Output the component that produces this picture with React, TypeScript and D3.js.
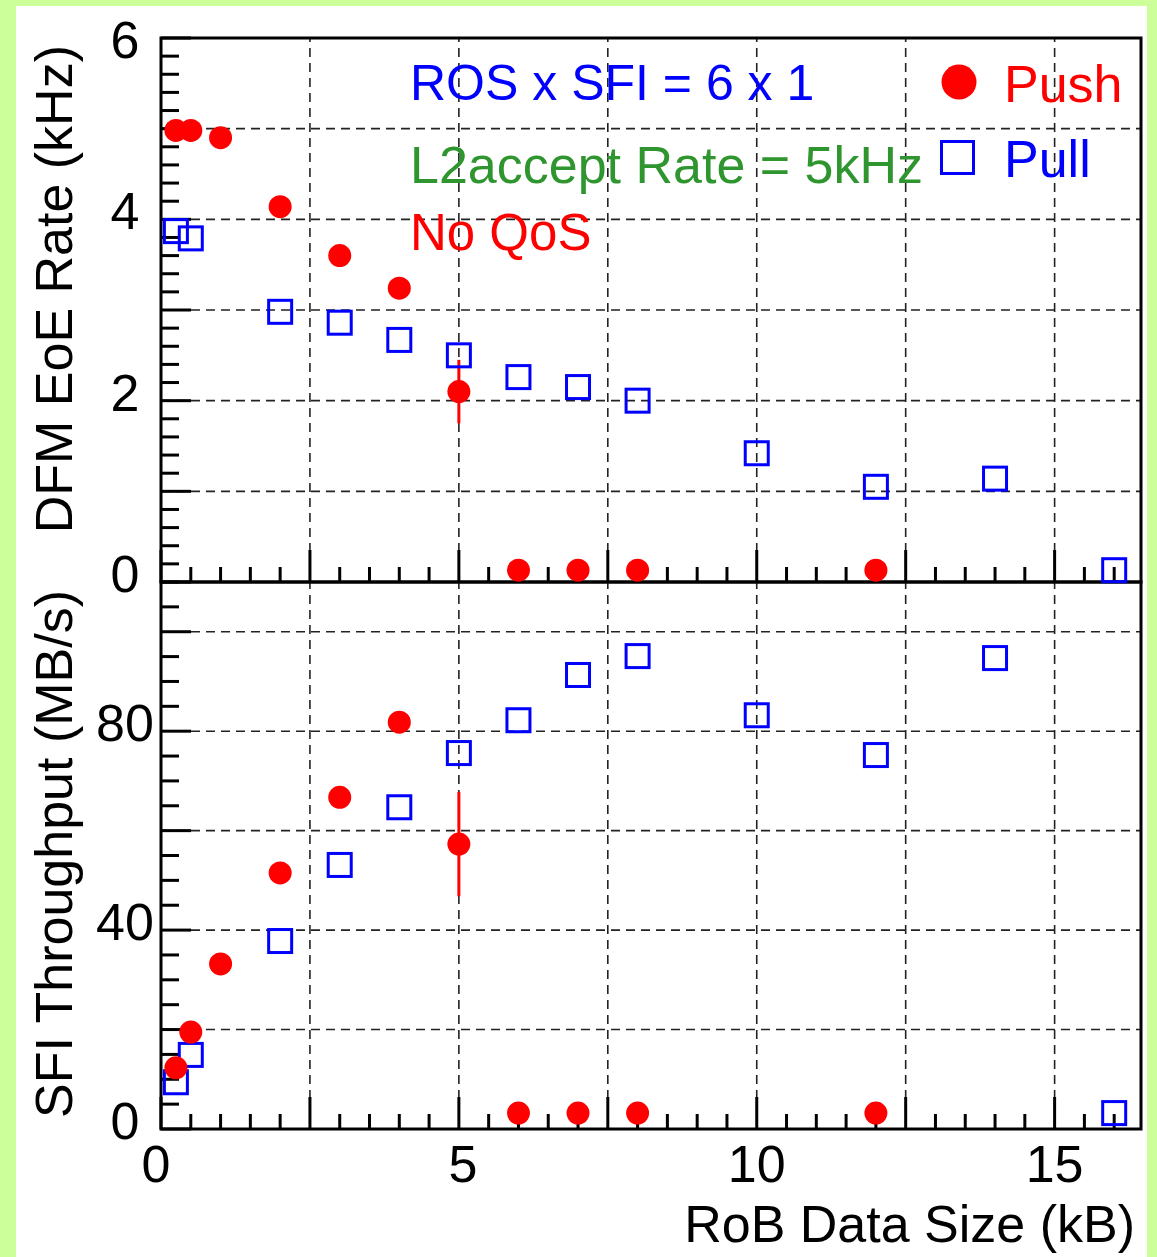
import React, { useEffect } from "react";
import * as d3 from "d3";

// RoB data size (kB) for each run
const pushSizes = [0.25, 0.5, 1, 2, 3, 4, 5, 6, 7, 8, 12];
const pullSizes = [0.25, 0.5, 2, 3, 4, 5, 6, 7, 8, 10, 12, 14, 16];

// DFM EoE rate (kHz)
const pushRate = [4.98, 4.98, 4.9, 4.14, 3.6, 3.24, 2.1, 0.13, 0.13, 0.13, 0.13];
const pushRateErr = [0, 0, 0, 0, 0, 0, 0.35, 0, 0, 0, 0];
const pullRate = [3.87, 3.79, 2.98, 2.86, 2.67, 2.5, 2.26, 2.15, 2.0, 1.42, 1.05, 1.14, 0.13];

// SFI throughput (MB/s)
const pushThroughput = [12.3, 19.5, 33.2, 51.5, 66.7, 81.8, 57.3, 3.2, 3.2, 3.2, 3.2];
const pushThroughputErr = [0, 0, 0, 0, 0, 0, 10.5, 0, 0, 0, 0];
const pullThroughput = [9.4, 14.9, 37.8, 53.1, 64.7, 75.6, 82.2, 91.3, 95.1, 83.2, 75.2, 94.7, 3.2];

// tick labels
const xLabels = [0, 5, 10, 15];
const rateLabels = [0, 2, 4, 6];
const throughputLabels = [0, 40, 80];

const W = 1157, H = 1257;
const FONT = "'Liberation Sans', Arial, Helvetica, sans-serif";
const FS = 52;
const RED = "#ff0000", BLUE = "#0000ff", GREEN = "#2f962f";

const x = d3.scaleLinear().domain([0, 16.45]).range([161, 1141]);
const yTop = d3.scaleLinear().domain([0, 6]).range([582, 38]);
const yBot = d3.scaleLinear().domain([0, 110]).range([1129, 582]);

const step = (a: number, b: number, s: number) => d3.range(a, b + 1e-9, s);

function Panel({ y, yMajor, yMinor, gridY }: { y: d3.ScaleLinear<number, number>; yMajor: number; yMinor: number; gridY: number[] }) {
  const [y0, y1] = y.range();
  const [x0, x1] = x.range();
  const xd = x.domain()[1];
  const yd = y.domain()[1];
  return (
    <g>
      {/* grid */}
      {step(2.5, 15, 2.5).map((v) => (
        <line key={"gx" + v} x1={x(v)} x2={x(v)} y1={y0} y2={y1} stroke="#222" strokeWidth={1.6} strokeDasharray="9,6" />
      ))}
      {gridY.map((v) => (
        <line key={"gy" + v} x1={x0} x2={x1} y1={y(v)} y2={y(v)} stroke="#222" strokeWidth={1.6} strokeDasharray="9,6" />
      ))}
      {/* x ticks */}
      {step(0, xd, 0.5).map((v) => {
        const major = Math.abs(v / 2.5 - Math.round(v / 2.5)) < 1e-6;
        return <line key={"tx" + v} x1={x(v)} x2={x(v)} y1={y0} y2={y0 - (major ? 32 : 15)} stroke="#000" strokeWidth={3} />;
      })}
      {/* y ticks */}
      {step(0, yd, yMinor).map((v) => {
        const major = Math.abs(v / yMajor - Math.round(v / yMajor)) < 1e-6;
        return <line key={"ty" + v} x1={x0} x2={x0 + (major ? 30 : 18)} y1={y(v)} y2={y(v)} stroke="#000" strokeWidth={3} />;
      })}
      <rect x={x0} y={y1} width={x1 - x0} height={y0 - y1} fill="none" stroke="#000" strokeWidth={3} />
    </g>
  );
}

function Markers({ y, push, pushErr, pull }: { y: d3.ScaleLinear<number, number>; push: number[]; pushErr: number[]; pull: number[] }) {
  return (
    <g>
      {pushSizes.map((s, i) =>
        pushErr[i] > 0 ? (
          <line key={"e" + i} x1={x(s)} x2={x(s)} y1={y(push[i] - pushErr[i])} y2={y(push[i] + pushErr[i])} stroke={RED} strokeWidth={3} />
        ) : null
      )}
      {pullSizes.map((s, i) => (
        <rect key={"q" + i} x={x(s) - 11.5} y={y(pull[i]) - 11.5} width={23} height={23} fill="none" stroke={BLUE} strokeWidth={3} />
      ))}
      {pushSizes.map((s, i) => (
        <circle key={"c" + i} cx={x(s)} cy={y(push[i])} r={11.5} fill={RED} />
      ))}
    </g>
  );
}

export default function App() {
  useEffect(() => {
    document.body.style.margin = "0";
  }, []);

  return (
    <svg width={W} height={H} style={{ display: "block", position: "absolute", left: 0, top: 0 }} fontFamily={FONT}>
      <rect x={0} y={0} width={W} height={H} fill="#ccff99" />
      <rect x={16} y={6} width={1131} height={H - 6} fill="#fff" />

      <Panel y={yTop} yMajor={1} yMinor={0.2} gridY={[1, 2, 3, 4, 5]} />
      <Panel y={yBot} yMajor={20} yMinor={5} gridY={[20, 40, 60, 80, 100]} />

      {/* annotations */}
      <text x={410} y={100} fontSize={50} fill={BLUE}>ROS x SFI = 6 x 1</text>
      <text x={410} y={183} fontSize={FS} fill={GREEN}>L2accept Rate = 5kHz</text>
      <text x={410} y={250} fontSize={51} fill={RED}>No QoS</text>

      {/* legend */}
      <circle cx={959} cy={82} r={17.5} fill={RED} />
      <text x={1004} y={102} fontSize={FS} fill={RED}>Push</text>
      <rect x={941.5} y={141.5} width={32} height={32} fill="none" stroke={BLUE} strokeWidth={3} />
      <text x={1004} y={177} fontSize={FS} fill={BLUE}>Pull</text>

      <Markers y={yTop} push={pushRate} pushErr={pushRateErr} pull={pullRate} />
      <Markers y={yBot} push={pushThroughput} pushErr={pushThroughputErr} pull={pullThroughput} />

      {/* tick labels */}
      {rateLabels.map((v) => (
        <text key={"rl" + v} x={125} y={Math.max(yTop(v) + 10, 58)} fontSize={FS} textAnchor="middle">{v}</text>
      ))}
      {throughputLabels.map((v) => (
        <text key={"tl" + v} x={125} y={yBot(v) + 10} fontSize={FS} textAnchor="middle">{v}</text>
      ))}
      {xLabels.map((v) => (
        <text key={"xl" + v} x={x(v) + (v === 0 ? -5 : v === 5 ? 4 : 0)} y={1182} fontSize={FS} textAnchor="middle">{v}</text>
      ))}

      {/* axis titles */}
      <text transform="translate(72,45) rotate(-90)" fontSize={FS} textAnchor="end">DFM EoE Rate (kHz)</text>
      <text transform="translate(72,590) rotate(-90)" fontSize={FS} textAnchor="end">SFI Throughput (MB/s)</text>
      <text x={1135} y={1242} fontSize={FS} textAnchor="end">RoB Data Size (kB)</text>
    </svg>
  );
}
